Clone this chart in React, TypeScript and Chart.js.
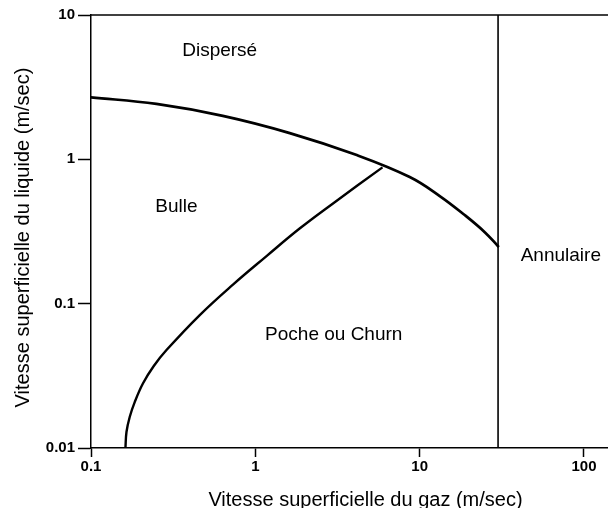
import React, { useEffect, useRef } from "react";
import { Chart, registerables } from "chart.js";

Chart.register(...registerables);

// Axis ticks
const xTicks = [0.1, 1, 10, 100];
const yTicks = [0.01, 0.1, 1, 10];
const xMin = 0.1;
const xMax = 140;
const yMin = 0.01;
const yMax = 10;

// Axis titles
const xTitle = "Vitesse superficielle du gaz (m/sec)";
const yTitle = "Vitesse superficielle du liquide (m/sec)";

// Boundary Dispersé / Bulle-Poche
const upperX = [0.1, 0.25, 0.634, 1.62, 4.14, 8.7, 13.25, 18.8, 24.9, 30];
const upperY = [2.69, 2.42, 2.0, 1.52, 1.07, 0.754, 0.557, 0.411, 0.313, 0.25];

// Boundary Bulle / Poche ou Churn
const lowerX = [0.162, 0.1644, 0.172, 0.1845, 0.207, 0.241, 0.288, 0.459, 0.731, 1.17, 1.86, 2.97, 5.94];
const lowerY = [0.01, 0.0129, 0.0164, 0.0208, 0.028, 0.037, 0.0477, 0.0834, 0.1356, 0.2137, 0.3315, 0.495, 0.88];

// Boundary Annulaire
const annularX = [30, 30];
const annularY = [0.01, 10];

// Region labels
const regionNames = ["Dispersé", "Bulle", "Poche ou Churn", "Annulaire"];
const regionX = [0.607, 0.331, 3.0, 72.3];
const regionY = [5.2, 0.431, 0.056, 0.196];

const FONT = '"Liberation Sans", Arial, Helvetica, sans-serif';

const toPoints = (xs: number[], ys: number[]) => xs.map((x, i) => ({ x, y: ys[i] }));

const framePlugin = {
  id: "frameTop",
  afterDraw(chart: any) {
    const { ctx, chartArea } = chart;
    ctx.save();
    ctx.strokeStyle = "#000";
    ctx.lineWidth = 1.5;
    ctx.beginPath();
    ctx.moveTo(chartArea.left, chartArea.top);
    ctx.lineTo(chartArea.right, chartArea.top);
    ctx.stroke();
    ctx.restore();
  },
};

const titlePlugin = {
  id: "axisTitles",
  afterDraw(chart: any) {
    const { ctx, chartArea } = chart;
    ctx.save();
    ctx.fillStyle = "#000";
    ctx.font = `20px ${FONT}`;
    ctx.textAlign = "center";
    ctx.textBaseline = "alphabetic";
    ctx.fillText(xTitle, (chartArea.left + chartArea.right) / 2 + 16, chart.height - 2);
    ctx.translate(29, (chartArea.top + chartArea.bottom) / 2 + 6);
    ctx.rotate(-Math.PI / 2);
    ctx.fillText(yTitle, 0, 0);
    ctx.restore();
  },
};

const regionPlugin = {
  id: "regionLabels",
  afterDatasetsDraw(chart: any) {
    const { ctx } = chart;
    const xs = chart.scales.x;
    const ys = chart.scales.y;
    ctx.save();
    ctx.fillStyle = "#000";
    ctx.font = `19px ${FONT}`;
    ctx.textAlign = "center";
    ctx.textBaseline = "alphabetic";
    regionNames.forEach((name, i) => {
      ctx.fillText(name, xs.getPixelForValue(regionX[i]), ys.getPixelForValue(regionY[i]));
    });
    ctx.restore();
  },
};

export default function App() {
  const canvasRef = useRef<HTMLCanvasElement | null>(null);

  useEffect(() => {
    if (!canvasRef.current) return;
    const lineStyle = {
      borderColor: "#000",
      backgroundColor: "#000",
      pointRadius: 0,
      pointHoverRadius: 0,
      fill: false,
      showLine: true,
      borderCapStyle: "round",
      borderJoinStyle: "round",
    };
    const chart = new Chart(canvasRef.current, {
      type: "scatter",
      data: {
        datasets: [
          {
            label: "Dispersé / Bulle",
            data: toPoints(upperX, upperY),
            borderWidth: 2.7,
            tension: 0.4,
            ...lineStyle,
          },
          {
            label: "Bulle / Poche",
            data: toPoints(lowerX, lowerY),
            borderWidth: 2.4,
            tension: 0.4,
            ...lineStyle,
            borderCapStyle: "butt",
          },
          {
            label: "Annulaire",
            data: toPoints(annularX, annularY),
            borderWidth: 1.6,
            ...lineStyle,
            borderCapStyle: "butt",
          },
        ],
      },
      options: {
        animation: false,
        responsive: true,
        maintainAspectRatio: false,
        layout: { padding: { top: 15, right: 0, left: 0, bottom: 0 } },
        plugins: {
          legend: { display: false },
          tooltip: { enabled: false },
        },
        scales: {
          x: {
            type: "logarithmic",
            min: xMin,
            max: xMax,
            afterBuildTicks: (scale: any) => {
              scale.ticks = xTicks.map((v) => ({ value: v }));
            },
            afterFit: (scale: any) => {
              scale.height = 60;
            },
            ticks: {
              color: "#000",
              font: { family: FONT, size: 15, weight: "bold" },
              padding: 1,
              maxRotation: 0,
              autoSkip: false,
              callback: (v: any) => String(v),
            },
            grid: {
              drawOnChartArea: false,
              drawTicks: true,
              tickLength: 9,
              tickColor: "#000",
              tickWidth: 1.5,
              color: "#000",
            },
            border: { display: true, color: "#000", width: 1.5 },
            title: { display: false },
          },
          y: {
            type: "logarithmic",
            min: yMin,
            max: yMax,
            afterBuildTicks: (scale: any) => {
              scale.ticks = yTicks.map((v) => ({ value: v }));
            },
            afterFit: (scale: any) => {
              scale.width = 91;
            },
            ticks: {
              color: "#000",
              font: { family: FONT, size: 15, weight: "bold" },
              padding: 3,
              autoSkip: false,
              callback: (v: any) => String(v),
            },
            grid: {
              drawOnChartArea: false,
              drawTicks: true,
              tickLength: 13,
              tickColor: "#000",
              tickWidth: 1.5,
              color: "#000",
            },
            border: { display: true, color: "#000", width: 1.5 },
            title: { display: false },
          },
        },
      },
      plugins: [framePlugin, regionPlugin, titlePlugin],
    } as any);
    return () => chart.destroy();
  }, []);

  return (
    <div
      style={{
        position: "absolute",
        left: 0,
        top: 0,
        width: 608,
        height: 508,
        background: "#fff",
      }}
    >
      <canvas ref={canvasRef} />
    </div>
  );
}
